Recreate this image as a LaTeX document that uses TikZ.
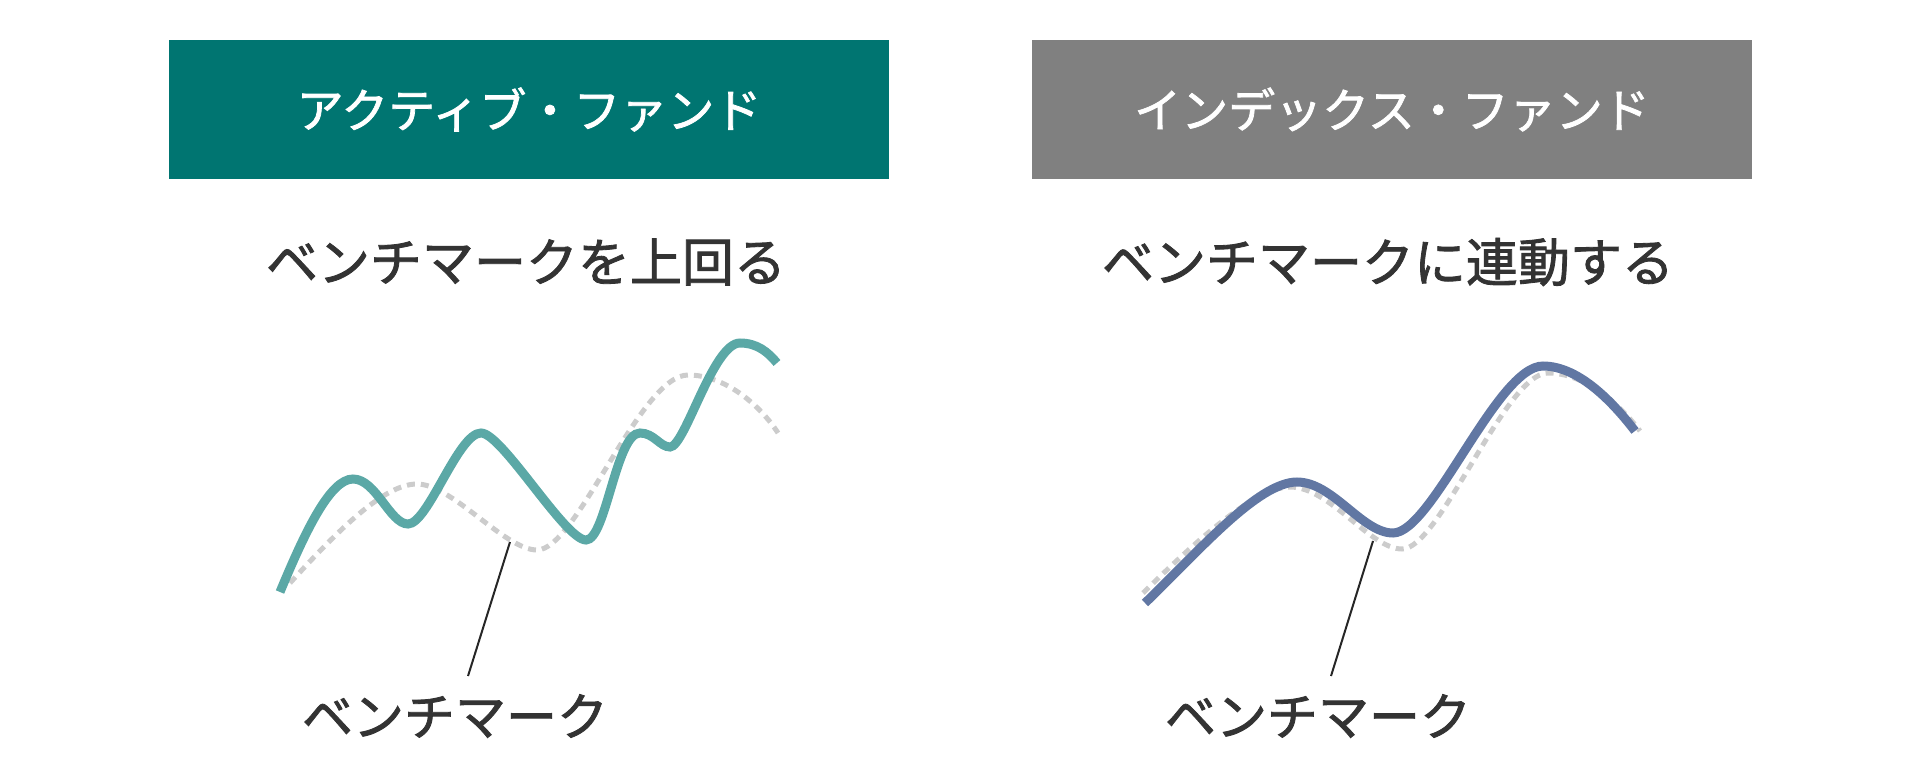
\documentclass[tikz,border=0pt]{standalone}
\usepackage{fontspec}
\setmainfont{Noto Sans CJK JP}[AutoFakeBold=1.6]
\definecolor{activebox}{RGB}{0,117,113}
\definecolor{indexbox}{RGB}{128,128,128}
\definecolor{activeline}{RGB}{91,168,166}
\definecolor{indexline}{RGB}{97,119,163}
\definecolor{benchline}{RGB}{204,204,204}
\definecolor{textdark}{RGB}{51,51,51}
\begin{document}
\begin{tikzpicture}[x=1pt,y=-1pt,
    fundbox/.style={minimum width=720pt,minimum height=139pt,inner sep=0pt,text=white,
      font=\fontsize{47pt}{56pt}\selectfont\bfseries},
    subtitle/.style={text=textdark,inner sep=0pt,font=\fontsize{52pt}{62pt}\selectfont\bfseries},
    benchlabel/.style={text=textdark,inner sep=0pt,font=\fontsize{51pt}{61pt}\selectfont\bfseries},
    fundcurve/.style={line width=9pt},
    benchcurve/.style={benchline,line width=5pt,dash pattern=on 8pt off 6pt},
    leader/.style={line width=2pt,black!85}]
    \useasboundingbox (0,0) rectangle (1916,781);

    \node [fundbox,fill=activebox] (active) at (529,109.5) {アクティブ・ファンド};
    \node [fundbox,fill=indexbox]  (index)  at (1392,109.5) {インデックス・ファンド};

    \node [subtitle] (activesub) at (526,262) {ベンチマークを上回る};
    \node [subtitle] (indexsub)  at (1388,262) {ベンチマークに連動する};

    % left: active fund vs benchmark
    \draw [benchcurve] (290,583) .. controls (340,528) and (385,484) .. (417,484)
        .. controls (452,484) and (505,550) .. (537,550)
        .. controls (577,550) and (640,375) .. (688,375)
        .. controls (725,375) and (760,405) .. (778,433);
    \draw [fundcurve,activeline] (280,592) .. controls (305,532) and (330,479) .. (353,479)
        .. controls (376,479) and (390,524) .. (408,524)
        .. controls (428,524) and (458,433) .. (481,433)
        .. controls (502,433) and (565,540) .. (586,540)
        .. controls (606,540) and (616,433) .. (640,433)
        .. controls (654,433) and (660,447) .. (670,447)
        .. controls (685,447) and (713,343) .. (740,343)
        .. controls (757,343) and (768,352) .. (777,363);

    % right: index fund vs benchmark
    \draw [benchcurve] (1143,593) .. controls (1195,542) and (1255,487) .. (1290,487)
        .. controls (1330,487) and (1370,549) .. (1402,549)
        .. controls (1440,549) and (1505,373) .. (1548,373)
        .. controls (1585,373) and (1620,405) .. (1640,431);
    \draw [fundcurve,indexline] (1145,603) .. controls (1198,552) and (1258,482) .. (1297,482)
        .. controls (1333,482) and (1362,533) .. (1393,533)
        .. controls (1432,533) and (1497,366) .. (1543,366)
        .. controls (1580,366) and (1615,405) .. (1635,431);

    % benchmark labels
    \node [benchlabel] (activebench) at (455,716) {ベンチマーク};
    \node [benchlabel] (indexbench)  at (1318,716) {ベンチマーク};
    \coordinate (activetip) at (510,542);
    \coordinate (activefoot) at (468,676);
    \coordinate (indextip) at (1373,541);
    \coordinate (indexfoot) at (1331,676);
    \draw [leader] (activetip) -- (activefoot);
    \draw [leader] (indextip) -- (indexfoot);
\end{tikzpicture}
\end{document}
